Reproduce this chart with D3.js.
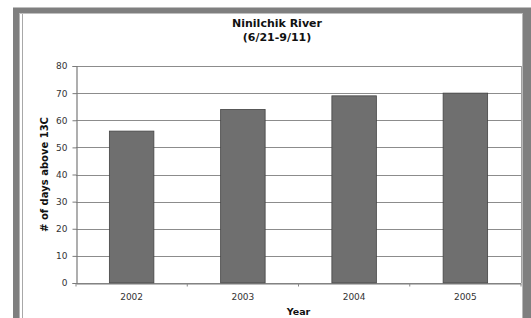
<!DOCTYPE html>
<html>
<head>
<meta charset="utf-8">
<script src="https://cdn.jsdelivr.net/npm/d3@7"></script>
<style>
	html, body { margin: 0; padding: 0; background: #fff; }
	#area { width: 531px; height: 318px; overflow: hidden; }
</style>
</head>
<body>
<div id="area"></div>
<script>

/**
* DATA
* ====
*/
var years = ['2002', '2003', '2004', '2005'];
var days_above = [56, 64, 69, 70];
var y_ticks = [0, 10, 20, 30, 40, 50, 60, 70, 80];
var title_lines = ['Ninilchik River', '(6/21-9/11)'];


/**
* CHART MODULE
* ============
*
* Draws the bar chart inside the grey frame
*/
var Chart = (function(){

	var width = 531;
	var height = 318;
	var plot = { left: 76, right: 521, top: 66, bottom: 283 };
	var svg;

	var drawFrame = function(){

		//Grey picture frame round the chart
		svg.append('rect')
			.attr('x', 13).attr('y', 7.5)
			.attr('width', 530).attr('height', 330)
			.attr('fill', '#7f7f7f');

		svg.append('rect')
			.attr('x', 19).attr('y', 13.5)
			.attr('width', 504).attr('height', 330)
			.attr('fill', '#fff');

		//Thin light lines just inside the frame
		svg.append('line')
			.attr('x1', 19.5).attr('x2', 19.5)
			.attr('y1', 13.5).attr('y2', height)
			.attr('stroke', '#b4b4b4');
		svg.append('line')
			.attr('x1', 22.5).attr('x2', 22.5)
			.attr('y1', 14).attr('y2', height)
			.attr('stroke', '#a8a8a8');
		svg.append('line')
			.attr('x1', 522.5).attr('x2', 522.5)
			.attr('y1', 13.5).attr('y2', height)
			.attr('stroke', '#b8b8b8');
	}

	var drawChart = function(){

		var x = d3.scaleBand()
			.domain(years)
			.range([plot.left, plot.right])
			.paddingInner(0.6)
			.paddingOuter(0.3);

		var y = d3.scaleLinear()
			.domain([0, 80])
			.range([plot.bottom, plot.top]);

		//Gridlines
		svg.append('g')
			.selectAll('line')
			.data(y_ticks)
			.join('line')
			.attr('x1', plot.left).attr('x2', plot.right)
			.attr('y1', function(d){ return Math.round(y(d)) + 0.5; })
			.attr('y2', function(d){ return Math.round(y(d)) + 0.5; })
			.attr('stroke', '#8c8c8c')
			.attr('stroke-width', 1.2);

		//Plot area right border
		svg.append('line')
			.attr('x1', plot.right + 0.5).attr('x2', plot.right + 0.5)
			.attr('y1', plot.top).attr('y2', plot.bottom)
			.attr('stroke', '#a0a0a0');

		//Bars
		svg.append('g')
			.selectAll('rect')
			.data(days_above)
			.join('rect')
			.attr('x', function(d, i){ return x(years[i]); })
			.attr('y', function(d){ return y(d); })
			.attr('width', x.bandwidth())
			.attr('height', function(d){ return y(0) - y(d); })
			.attr('fill', '#6f6f6f')
			.attr('stroke', '#444')
			.attr('stroke-width', 0.8);

		//Y axis
		var y_axis = svg.append('g')
			.attr('transform', 'translate(' + (plot.left + 0.5) + ',0)')
			.call(d3.axisLeft(y).tickValues(y_ticks).tickSize(4).tickPadding(5));

		//X axis, ticks sit between the categories like Excel
		var x_axis = svg.append('g')
			.attr('transform', 'translate(0,' + (Math.round(y(0)) + 0.5) + ')')
			.call(d3.axisBottom(x).tickSize(0).tickPadding(10));

		var step = x.step();
		x_axis.selectAll('.between')
			.data(d3.range(years.length + 1))
			.join('line')
			.attr('class', 'between')
			.attr('x1', function(d){ return plot.left + d * step; })
			.attr('x2', function(d){ return plot.left + d * step; })
			.attr('y1', 0).attr('y2', 3)
			.attr('stroke', '#888');

		[y_axis, x_axis].forEach(function(ax){
			ax.select('.domain').attr('stroke', '#7a7a7a').attr('stroke-width', 1.2);
			ax.selectAll('.tick line').attr('stroke', '#7a7a7a');
			ax.selectAll('text')
				.attr('font-family', 'DejaVu Sans, Verdana, sans-serif')
				.attr('font-size', 9)
				.attr('fill', '#333');
		});

		//Titles
		svg.append('g')
			.selectAll('text')
			.data(title_lines)
			.join('text')
			.attr('x', 277)
			.attr('y', function(d, i){ return 27 + i * 14; })
			.attr('text-anchor', 'middle')
			.attr('font-family', 'DejaVu Sans, Verdana, sans-serif')
			.attr('font-weight', 'bold')
			.attr('font-size', 11)
			.attr('fill', '#111')
			.text(function(d){ return d; });

		svg.append('text')
			.attr('x', (plot.left + plot.right) / 2)
			.attr('y', 315)
			.attr('text-anchor', 'middle')
			.attr('font-family', 'DejaVu Sans, Verdana, sans-serif')
			.attr('font-weight', 'bold')
			.attr('font-size', 9.5)
			.attr('fill', '#111')
			.text('Year');

		svg.append('text')
			.attr('transform', 'translate(48,' + ((plot.top + plot.bottom) / 2) + ') rotate(-90)')
			.attr('text-anchor', 'middle')
			.attr('font-family', 'DejaVu Sans, Verdana, sans-serif')
			.attr('font-weight', 'bold')
			.attr('font-size', 10)
			.attr('fill', '#111')
			.text('# of days above 13C');
	}

	return {
		init: function(){
			svg = d3.select('#area').append('svg')
				.attr('width', width)
				.attr('height', height);
			drawFrame();
			drawChart();
		}
	};
})();

Chart.init();
</script>
</body>
</html>
